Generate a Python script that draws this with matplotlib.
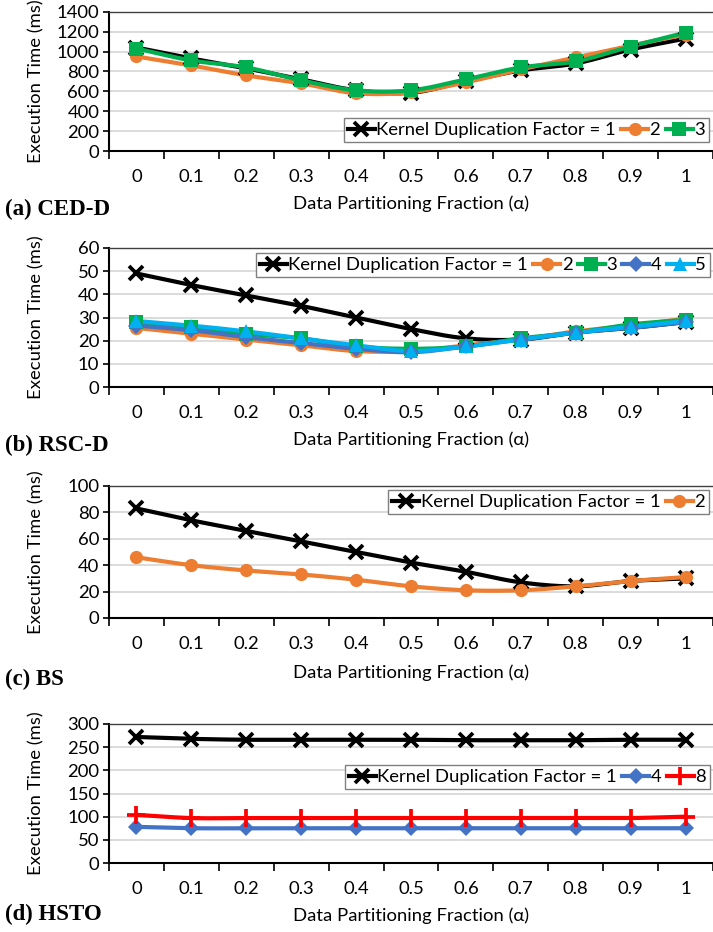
import numpy as np
import matplotlib
matplotlib.use("Agg")
import matplotlib.pyplot as plt
from matplotlib.lines import Line2D

# ---------------- data ----------------
fractions = ["0", "0.1", "0.2", "0.3", "0.4", "0.5", "0.6", "0.7", "0.8", "0.9", "1"]

ced_k1 = [1040, 930, 830, 720, 610, 585, 700, 810, 880, 1020, 1130]
ced_k2 = [950, 860, 760, 680, 580, 590, 690, 820, 940, 1060, 1170]
ced_k3 = [1030, 910, 840, 710, 610, 610, 720, 840, 900, 1050, 1190]

rsc_k1 = [49, 44, 39.5, 35, 30, 25, 21, 20.5, 23.5, 25.5, 28]
rsc_k2 = [25.5, 23, 20.5, 18, 15.5, 15.5, 18, 20.5, 24, 26.5, 29.5]
rsc_k3 = [28, 26, 23, 21, 17.5, 16.5, 17.5, 21, 23.5, 27, 29]
rsc_k4 = [26.5, 24.5, 21.5, 19, 16.5, 15, 17.5, 20.5, 23.5, 25.5, 28]
rsc_k5 = [28.5, 26.5, 24, 21, 18, 15.5, 17.5, 20.5, 23.5, 26, 28.5]

bs_k1 = [83, 74, 66, 58, 50, 42, 35, 27, 24, 28, 30]
bs_k2 = [46, 40, 36, 33, 29, 24, 21, 21, 24, 28, 31]

hsto_k1 = [272, 268, 266, 266, 266, 266, 265, 265, 265, 266, 266]
hsto_k4 = [78, 75, 75, 75, 75, 75, 75, 75, 75, 75, 75]
hsto_k8 = [104, 97, 97, 97, 97, 97, 97, 97, 97, 97, 100]

# ---------------- style ----------------
FONT = "Lato"
FS = 13.3
BLACK = "#000000"
ORANGE = "#ED7D31"
GREEN = "#00B050"
BLUE = "#4472C4"
CYAN = "#00B0F0"
RED = "#FF0000"

styles = {
    "k1": dict(color=BLACK, marker="x", ms=10.5, mew=2.7),
    "k2": dict(color=ORANGE, marker="o", ms=9.5, mew=0),
    "k3": dict(color=GREEN, marker="s", ms=9.5, mew=0),
    "k4": dict(color=BLUE, marker="D", ms=8, mew=0),
    "k5": dict(color=CYAN, marker="^", ms=10.5, mew=0),
    "k8": dict(color=RED, marker="+", ms=12.5, mew=2.7),
}
LW = 3.0

W, H = 713, 932
fig = plt.figure(figsize=(W / 100, H / 100), dpi=100)


def smooth(xs, ys, n=20):
    """Catmull-Rom (Excel-like smoothed line) through the data points."""
    xs = np.asarray(xs, float)
    ys = np.asarray(ys, float)
    px = np.concatenate([[2 * xs[0] - xs[1]], xs, [2 * xs[-1] - xs[-2]]])
    py = np.concatenate([[2 * ys[0] - ys[1]], ys, [2 * ys[-1] - ys[-2]]])
    ox, oy = [], []
    t = np.linspace(0, 1, n, endpoint=False)
    for i in range(1, len(px) - 2):
        for P, out in ((px[i - 1:i + 3], ox), (py[i - 1:i + 3], oy)):
            a0, a1, a2, a3 = P
            out.extend(0.5 * ((2 * a1) + (-a0 + a2) * t + (2 * a0 - 5 * a1 + 4 * a2 - a3) * t ** 2
                              + (-a0 + 3 * a1 - 3 * a2 + a3) * t ** 3))
    ox.append(xs[-1])
    oy.append(ys[-1])
    return np.array(ox), np.array(oy)


def make_panel(top, bottom, ymax, ystep, series, labels, tag, legend_box, title_y, xlabel_y):
    left, right = 109, 713
    ax = fig.add_axes([left / W, 1 - bottom / H, (right - left) / W, (bottom - top) / H])
    x = np.arange(len(fractions))
    for key, vals in series:
        st = styles[key]
        sx, sy = smooth(x, vals)
        ax.plot(sx, sy, color=st["color"], lw=LW, solid_capstyle="round", zorder=3)
        ax.plot(x, vals, linestyle="none", marker=st["marker"], ms=st["ms"],
                color=st["color"], mec=st["color"], mew=st["mew"], zorder=4)
    ax.set_ylim(0, ymax)
    ax.set_xlim(-0.5, -0.5 + (right - left) / 55.45)
    ax.set_yticks(np.arange(0, ymax + ystep / 2, ystep))
    ax.yaxis.grid(True, color="#D9D9D9", lw=1.3)
    ax.set_axisbelow(True)
    ax.set_xticks(np.arange(-0.5, len(fractions), 1.0))
    ax.set_xticklabels([])
    ax.set_xticks(x, minor=True)
    ax.set_xticklabels(fractions, minor=True, fontsize=FS, family=FONT)
    ax.tick_params(axis="x", which="major", length=6, width=1.2, direction="out", color="#000000")
    ax.tick_params(axis="x", which="minor", length=0, pad=13)
    ax.tick_params(axis="y", length=4, width=1.2, pad=3, labelsize=FS)
    for lab in ax.get_yticklabels():
        lab.set_family(FONT)
    ax.spines["right"].set_visible(False)
    ax.spines["top"].set_color("#404040")
    ax.spines["top"].set_linewidth(1.0)
    ax.spines["left"].set_linewidth(1.5)
    ax.spines["bottom"].set_linewidth(1.5)

    fig.text(36 / W, 1 - (top + bottom) / 2 / H, "Execution Time (ms)", rotation=90,
             ha="center", va="center", fontsize=FS, family=FONT)
    fig.text(411 / W, 1 - xlabel_y / H, "Data Partitioning Fraction (α)",
             ha="center", va="center", fontsize=FS, family=FONT)
    fig.text(5 / W, 1 - title_y / H, tag, ha="left", va="center", fontsize=16.5,
             family="Liberation Serif", weight="bold")

    handles = []
    for (key, _), lab in zip(series, labels):
        st = styles[key]
        handles.append(Line2D([], [], color=st["color"], lw=LW, marker=st["marker"],
                              ms=st["ms"], mec=st["color"], mew=st["mew"]))
    lx0, ly0, lx1, ly1 = legend_box
    leg = fig.legend(handles, labels, loc="upper right",
                     bbox_to_anchor=(lx1 / W, 1 - ly0 / H), bbox_transform=fig.transFigure,
                     ncol=len(labels), frameon=True, fancybox=False, framealpha=1,
                     handlelength=1.45, handletextpad=0.08, columnspacing=0.3,
                     borderpad=0.22, borderaxespad=0,
                     prop={"family": FONT, "size": FS})
    leg.get_frame().set_edgecolor("#808080")
    leg.get_frame().set_linewidth(1.0)
    return ax


make_panel(11.7, 151, 1400, 200,
           [("k1", ced_k1), ("k2", ced_k2), ("k3", ced_k3)],
           ["Kernel Duplication Factor = 1", "2", "3"],
           "(a) CED-D", (336, 118, 709, 146), 209, 204)

make_panel(248, 387, 60, 10,
           [("k1", rsc_k1), ("k2", rsc_k2), ("k3", rsc_k3), ("k4", rsc_k4), ("k5", rsc_k5)],
           ["Kernel Duplication Factor = 1", "2", "3", "4", "5"],
           "(b) RSC-D", (240, 253, 710, 280), 445, 440)

make_panel(486, 618, 100, 20,
           [("k1", bs_k1), ("k2", bs_k2)],
           ["Kernel Duplication Factor = 1", "2"],
           "(c) BS", (380, 490, 709, 513), 679, 673)

make_panel(724, 863, 300, 50,
           [("k1", hsto_k1), ("k4", hsto_k4), ("k8", hsto_k8)],
           ["Kernel Duplication Factor = 1", "4", "8"],
           "(d) HSTO", (336, 765, 710, 792), 914, 916)

fig.savefig("out.png", dpi=100)
